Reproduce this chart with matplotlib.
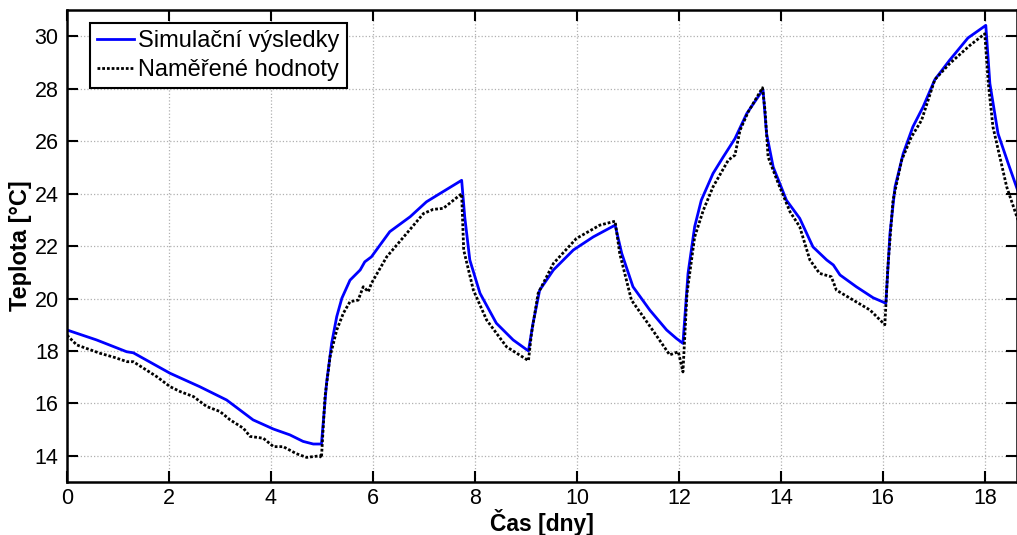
import matplotlib.pyplot as plt

# simulated temperature (blue)
sim_t = [0, 0.58, 1.17, 1.3, 2.02, 2.6, 3.13, 3.65, 4.05, 4.37, 4.63, 4.83, 4.99,
         5.09, 5.19, 5.29, 5.39, 5.55, 5.75, 5.84, 5.97, 6.33, 6.73, 7.05, 7.31, 7.74,
         7.8, 7.9, 8.1, 8.42, 8.75, 9.05,
         9.14, 9.27, 9.54, 9.93, 10.32, 10.75,
         10.88, 11.1, 11.43, 11.76, 11.95, 12.08,
         12.18, 12.31, 12.44, 12.67, 12.87, 13.1, 13.33, 13.65,
         13.72, 13.85, 14.11, 14.37, 14.63, 14.9, 15.03, 15.16, 15.48, 15.81, 16.06,
         16.14, 16.24, 16.4, 16.59, 16.79, 17.02, 17.31, 17.67, 18.02,
         18.1, 18.26, 18.46, 18.65]
sim_T = [18.8, 18.42, 17.97, 17.93, 17.15, 16.64, 16.13, 15.37, 15.02, 14.8, 14.55, 14.45, 14.45,
         16.77, 18.29, 19.31, 20.01, 20.7, 21.09, 21.4, 21.59, 22.55, 23.12, 23.69, 24.0, 24.51,
         23.12, 21.47, 20.2, 19.06, 18.42, 18.0,
         19.06, 20.32, 21.09, 21.85, 22.35, 22.8,
         21.72, 20.45, 19.56, 18.8, 18.48, 18.29,
         20.96, 22.74, 23.75, 24.77, 25.4, 26.1, 27.05, 27.97,
         26.29, 25.02, 23.75, 23.06, 21.97, 21.47, 21.28, 20.9, 20.45, 20.03, 19.82,
         22.48, 24.26, 25.53, 26.55, 27.31, 28.35, 29.09, 29.94, 30.42,
         28.2, 26.29, 25.15, 24.1]

# measured temperature (black dotted)
mea_t = [0, 0.19, 0.65, 0.92, 1.18, 1.3, 1.76, 2.02, 2.22, 2.48, 2.74, 3.0, 3.2, 3.46,
         3.59, 3.85, 4.05, 4.24, 4.5, 4.7, 4.96, 4.99,
         5.06, 5.16, 5.29, 5.42, 5.55, 5.71, 5.81, 5.91, 5.97, 6.27, 6.66, 6.99, 7.18, 7.38, 7.74,
         7.78, 7.97, 8.23, 8.62, 9.05,
         9.11, 9.24, 9.54, 9.99, 10.45, 10.75,
         10.84, 11.07, 11.3, 11.53, 11.82, 11.99, 12.08,
         12.16, 12.31, 12.48, 12.67, 12.97, 13.1, 13.2, 13.36, 13.64,
         13.69, 13.75, 13.95, 14.18, 14.37, 14.57, 14.76, 14.99, 15.09, 15.42, 15.75, 16.04,
         16.1, 16.2, 16.37, 16.56, 16.76, 17.02, 17.31, 17.71, 18.0,
         18.07, 18.16, 18.43, 18.65]
mea_T = [18.6, 18.23, 17.91, 17.76, 17.59, 17.59, 17.02, 16.64, 16.45, 16.26, 15.88, 15.69, 15.37, 15.05,
         14.74, 14.67, 14.35, 14.35, 14.08, 13.94, 14.0, 13.92,
         16.26, 17.79, 18.8, 19.44, 19.88, 19.94, 20.45, 20.26, 20.58, 21.59, 22.48, 23.24, 23.4, 23.44, 24.0,
         21.85, 20.32, 19.18, 18.16, 17.63,
         18.67, 20.2, 21.34, 22.29, 22.8, 22.95,
         21.72, 19.94, 19.31, 18.67, 17.85, 17.97, 17.2,
         20.2, 22.35, 23.37, 24.26, 25.28, 25.47, 26.42, 27.12, 28.04,
         27.18, 25.4, 24.39, 23.31, 22.74, 21.47, 20.96, 20.83, 20.32, 19.94, 19.56, 19.0,
         21.21, 23.75, 25.28, 26.16, 26.8, 28.35, 28.96, 29.66, 30.1,
         28.2, 26.55, 24.26, 23.0]

plt.rcParams['font.family'] = ['Liberation Sans', 'DejaVu Sans']

fig = plt.figure(figsize=(10.17, 5.35), dpi=100)
ax = fig.add_axes([0.0659, 0.099, 0.934, 0.882])

ax.plot(sim_t, sim_T, color='#0000ff', lw=2, label='Simulační výsledky')
ax.plot(mea_t, mea_T, color='black', lw=2, linestyle=(0, (1, 0.7)), label='Naměřené hodnoty')

ax.set_xlim(0, 18.63)
ax.set_ylim(13, 31)
ax.set_xticks(range(0, 19, 2))
ax.set_yticks(range(14, 31, 2))
ax.grid(True, color='#b0b0b0', linestyle=':', linewidth=0.9)
ax.tick_params(direction='in', length=8, width=1.5, labelsize=15.5,
               top=True, right=True, pad=6)
ax.tick_params(axis='x', pad=4.5)
for s in ax.spines.values():
    s.set_linewidth(1.8)

ax.set_xlabel('Čas [dny]', fontsize=16.5, fontweight='bold', labelpad=-0.5)
ax.set_ylabel('Teplota [°C]', fontsize=17, fontweight='bold', labelpad=2)

leg = ax.legend(loc='upper left', bbox_to_anchor=(0.0242, 0.9725), fontsize=17,
                fancybox=False, framealpha=1, edgecolor='black',
                handlelength=1.55, handletextpad=0.2, borderpad=0.3,
                labelspacing=0.3, borderaxespad=0)
leg.get_frame().set_linewidth(1.5)

fig.savefig('out.png', dpi=100)
